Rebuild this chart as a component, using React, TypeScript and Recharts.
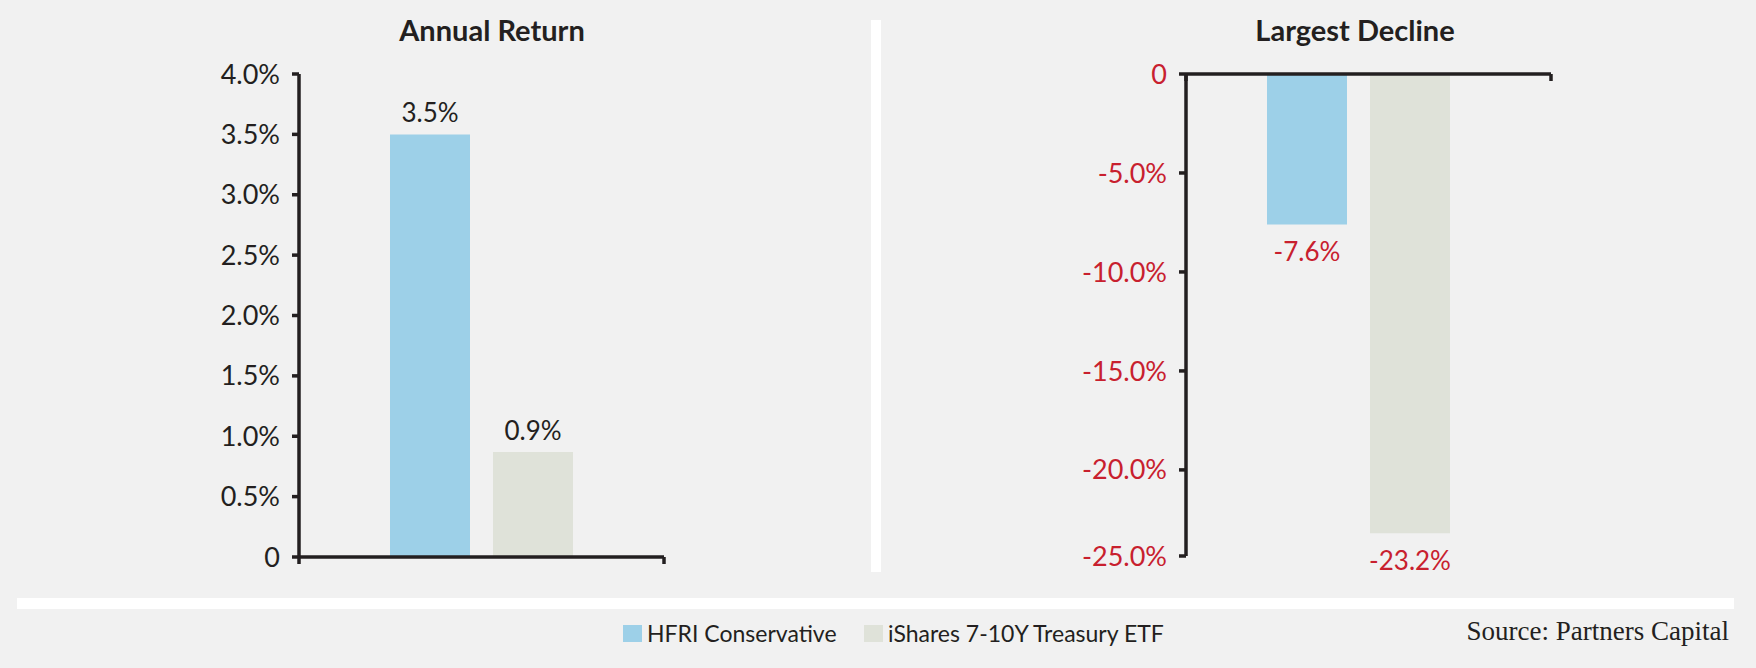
import { BarChart, Bar, XAxis, YAxis, LabelList } from "recharts";

const SERIES_NAMES = ["HFRI Conservative", "iShares 7-10Y Treasury ETF"];
const SERIES_KEYS = ["hfri", "ishares"];
const SERIES_COLORS = ["#9dd0e8", "#dfe2d9"];

const ANNUAL_RETURN = [3.5, 0.87];
const LARGEST_DECLINE = [-7.6, -23.2];

const RETURN_TICKS = [0, 0.5, 1, 1.5, 2, 2.5, 3, 3.5, 4];
const RETURN_TICK_LABELS = ["0", "0.5%", "1.0%", "1.5%", "2.0%", "2.5%", "3.0%", "3.5%", "4.0%"];

// bottom of the decline axis sits a bit above -25 but is labelled -25.0%
const DECLINE_TICKS = [0, -5, -10, -15, -20, -24.35];
const DECLINE_TICK_LABELS = ["0", "-5.0%", "-10.0%", "-15.0%", "-20.0%", "-25.0%"];

// the plain x frame: a 0..1 axis whose two ticks mark the ends
const FRAME_TICKS = [0, 1];

const INK = "#231f20";
const RED = "#c8202e";
const BG = "#f1f1f1";
const FONT = "Lato, 'Open Sans', sans-serif";

function toRow(values: number[]) {
  const row: Record<string, number | string> = { period: "" };
  SERIES_KEYS.forEach((k, i) => (row[k] = values[i]));
  return [row];
}

function lookup(ticks: number[], labels: string[]) {
  return (v: number) => {
    const i = ticks.findIndex((t) => Math.abs(t - v) < 1e-6);
    return i >= 0 ? labels[i] : "";
  };
}

function barLabel(color: string, below: boolean) {
  return (props: any) => {
    const x = Number(props.x);
    const y = Number(props.y);
    const w = Number(props.width);
    const h = Number(props.height);
    const top = Math.min(y, y + h);
    const bottom = Math.max(y, y + h);
    const ty = below ? bottom + 37 : top - 12;
    return (
      <text x={x + w / 2} y={ty} textAnchor="middle" fill={color} fontSize={26} fontFamily={FONT}>
        {Number(props.value).toFixed(1) + "%"}
      </text>
    );
  };
}

const axisStroke = { stroke: INK, strokeWidth: 3.5 };

function Title({ text, center }: { text: string; center: number }) {
  return (
    <div
      style={{
        position: "absolute",
        left: center - 200,
        width: 400,
        top: 12,
        textAlign: "center",
        fontFamily: FONT,
        fontWeight: 700,
        fontSize: 29,
        color: INK,
      }}
    >
      {text}
    </div>
  );
}

export default function App() {
  const returnData = toRow(ANNUAL_RETURN);
  const declineData = toRow(LARGEST_DECLINE);

  return (
    <div
      style={{
        position: "absolute",
        left: 0,
        top: 0,
        width: 1756,
        height: 668,
        background: BG,
        overflow: "hidden",
        fontFamily: FONT,
      }}
    >
      <Title text="Annual Return" center={492} />
      <Title text="Largest Decline" center={1355} />

      {/* separators */}
      <div style={{ position: "absolute", left: 871, top: 20, width: 10, height: 552, background: "#fff" }} />
      <div style={{ position: "absolute", left: 17, top: 598, width: 1717, height: 11, background: "#fff" }} />

      {/* Annual return */}
      <div style={{ position: "absolute", left: 0, top: 0 }}>
        <BarChart
          width={870}
          height={600}
          data={returnData}
          margin={{ top: 74, right: 206, bottom: 33, left: 199 }}
          barSize={80}
          barGap={23}
        >
          <XAxis
            xAxisId="frame"
            type="number"
            dataKey="edge"
            domain={[0, 1]}
            ticks={FRAME_TICKS}
            interval={0}
            allowDataOverflow
            height={10}
            tickSize={7}
            tickFormatter={() => ""}
            stroke={INK}
            strokeWidth={3.5}
            axisLine={axisStroke}
            tickLine={axisStroke}
          />
          <XAxis xAxisId="cat" dataKey="period" hide height={0} />
          <YAxis
            type="number"
            domain={[0, 4]}
            ticks={RETURN_TICKS}
            interval={0}
            width={100}
            tickSize={7}
            tickMargin={12}
            tickFormatter={lookup(RETURN_TICKS, RETURN_TICK_LABELS)}
            tick={{ fill: INK, fontSize: 27, fontFamily: FONT }}
            stroke={INK}
            strokeWidth={3.5}
            axisLine={axisStroke}
            tickLine={axisStroke}
          />
          {SERIES_KEYS.map((k, i) => (
            <Bar key={k} xAxisId="cat" dataKey={k} name={SERIES_NAMES[i]} fill={SERIES_COLORS[i]} isAnimationActive={false}>
              <LabelList dataKey={k} content={barLabel(INK, false)} />
            </Bar>
          ))}
        </BarChart>
      </div>

      {/* Largest decline */}
      <div style={{ position: "absolute", left: 885, top: 0 }}>
        <BarChart
          width={871}
          height={600}
          data={declineData}
          margin={{ top: 64, right: 205, bottom: 44, left: 181 }}
          barSize={80}
          barGap={23}
        >
          <XAxis
            xAxisId="frame"
            type="number"
            dataKey="edge"
            orientation="top"
            domain={[0, 1]}
            ticks={FRAME_TICKS}
            interval={0}
            allowDataOverflow
            height={10}
            tickSize={-7}
            tickFormatter={() => ""}
            stroke={INK}
            strokeWidth={3.5}
            axisLine={axisStroke}
            tickLine={axisStroke}
          />
          <XAxis xAxisId="cat" dataKey="period" hide height={0} padding={{ left: 0, right: 20 }} />
          <YAxis
            type="number"
            domain={[-24.35, 0]}
            ticks={DECLINE_TICKS}
            interval={0}
            allowDataOverflow
            width={120}
            tickSize={7}
            tickMargin={12}
            tickFormatter={lookup(DECLINE_TICKS, DECLINE_TICK_LABELS)}
            tick={{ fill: RED, fontSize: 27, fontFamily: FONT }}
            stroke={INK}
            strokeWidth={3.5}
            axisLine={axisStroke}
            tickLine={axisStroke}
          />
          {SERIES_KEYS.map((k, i) => (
            <Bar key={k} xAxisId="cat" dataKey={k} name={SERIES_NAMES[i]} fill={SERIES_COLORS[i]} isAnimationActive={false}>
              <LabelList dataKey={k} content={barLabel(RED, true)} />
            </Bar>
          ))}
        </BarChart>
      </div>

      {/* legend */}
      {SERIES_NAMES.map((name, i) => (
        <div
          key={name}
          style={{
            position: "absolute",
            left: [623, 864][i],
            top: 619,
            display: "flex",
            alignItems: "center",
            fontSize: 23,
            color: INK,
            whiteSpace: "nowrap",
          }}
        >
          <span style={{ width: 19, height: 17, background: SERIES_COLORS[i], marginRight: 5, display: "inline-block" }} />
          {name}
        </div>
      ))}

      <div
        style={{
          position: "absolute",
          right: 27,
          top: 618,
          fontFamily: "'Liberation Serif', 'DejaVu Serif', serif",
          fontSize: 27,
          lineHeight: "27px",
          color: INK,
          whiteSpace: "nowrap",
        }}
      >
        Source: Partners Capital
      </div>
    </div>
  );
}
